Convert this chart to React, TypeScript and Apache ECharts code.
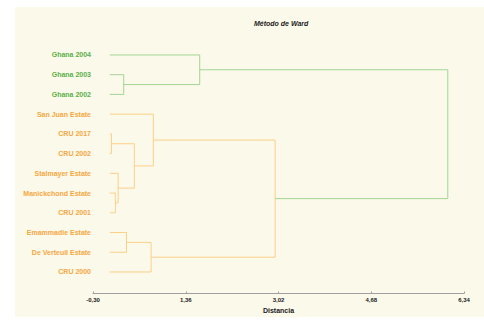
import React, { useEffect, useRef } from "react";
import * as echarts from "echarts";

// Leaves, top to bottom
const leaves = [
  "Ghana 2004",
  "Ghana 2003",
  "Ghana 2002",
  "San Juan Estate",
  "CRU 2017",
  "CRU 2002",
  "Stalmayer Estate",
  "Manickchond Estate",
  "CRU 2001",
  "Emammadie Estate",
  "De Verteuil Estate",
  "CRU 2000",
];
// cluster group of each leaf: g = Ghana (green), o = orange
const leafGroup = ["g", "g", "g", "o", "o", "o", "o", "o", "o", "o", "o", "o"];

// Linkage: [childA, childB, distance]; ids >= leaves.length refer to earlier merges
const merges: [number, number, number][] = [
  [4, 5, 0.03], // 12
  [7, 8, 0.1], // 13
  [6, 13, 0.15], // 14
  [1, 2, 0.25], // 15
  [9, 10, 0.3], // 16
  [12, 14, 0.44], // 17
  [16, 11, 0.74], // 18
  [3, 17, 0.78], // 19
  [0, 15, 1.61], // 20
  [19, 18, 2.96], // 21
  [20, 21, 6.05], // 22
];
// colour group of each merge link
const mergeGroup = ["o", "o", "o", "g", "o", "o", "o", "o", "g", "o", "g"];

const axisMin = -0.3;
const axisMax = 6.34;
const axisStep = 1.66;

const COLORS: Record<string, { text: string; line: string }> = {
  g: { text: "#5cb04a", line: "#a3d594" },
  o: { text: "#f5a742", line: "#fccf88" },
};

export default function App() {
  const ref = useRef<HTMLDivElement>(null);
  useEffect(() => {
    document.body.style.margin = "0";
    const chart = echarts.init(ref.current!, null, { renderer: "svg" });
    const n = leaves.length;
    const pos: number[] = leaves.map((_, i) => i);
    const hgt: number[] = leaves.map(() => 0);
    const series: any[] = [];
    merges.forEach(([a, b, d], k) => {
      const ya = pos[a];
      const yb = pos[b];
      const ha = hgt[a];
      const hb = hgt[b];
      pos[n + k] = (ya + yb) / 2;
      hgt[n + k] = d;
      series.push({
        type: "line",
        showSymbol: false,
        symbol: "none",
        silent: true,
        lineStyle: { color: COLORS[mergeGroup[k]].line, width: 1 },
        data: [
          [ha - axisMin, ya],
          [d - axisMin, ya],
          [d - axisMin, yb],
          [hb - axisMin, yb],
        ],
      });
    });

    const rich: any = {
      g: { color: COLORS.g.text, fontWeight: "bold", fontSize: 7, fontFamily: "Liberation Sans, Arial, sans-serif" },
      o: { color: COLORS.o.text, fontWeight: "bold", fontSize: 7, fontFamily: "Liberation Sans, Arial, sans-serif" },
    };

    chart.setOption({
      animation: false,
      backgroundColor: "#ffffff",
      graphic: [
        {
          type: "rect",
          z: -10,
          silent: true,
          shape: { x: 15, y: 7, width: 469, height: 310 },
          style: { fill: "#fbf9ea" },
        },
      ],
      title: {
        text: "Método de Ward",
        left: 249,
        top: 15,
        textStyle: {
          fontSize: 7,
          fontStyle: "italic",
          fontWeight: "bold",
          color: "#222",
          fontFamily: "Liberation Sans, Arial, sans-serif",
        },
      },
      grid: { left: 93, width: 371, top: 15.5, height: 278 },
      xAxis: {
        type: "value",
        position: "bottom",
        min: 0,
        max: axisMax - axisMin,
        interval: axisStep,
        splitLine: { show: false },
        axisLine: { show: true, onZero: false, lineStyle: { color: "#a0a0a0", width: 1 } },
        axisTick: { show: true, inside: true, length: 2, lineStyle: { color: "#a0a0a0" } },
        axisLabel: {
          fontSize: 6,
          fontWeight: "bold",
          color: "#222",
          margin: 3,
          fontFamily: "Liberation Sans, Arial, sans-serif",
          formatter: (v: number) => (v + axisMin).toFixed(2).replace(".", ","),
        },
        name: "Distancia",
        nameLocation: "middle",
        nameGap: 13,
        nameTextStyle: {
          fontSize: 7,
          fontWeight: "bold",
          color: "#222",
          fontFamily: "Liberation Sans, Arial, sans-serif",
          verticalAlign: "top",
        },
      },
      yAxis: {
        type: "value",
        inverse: true,
        min: -2,
        max: 12.09,
        interval: 1,
        splitLine: { show: false },
        axisLine: { show: false },
        axisTick: { show: false },
        axisLabel: {
          margin: 2,
          showMinLabel: false,
          showMaxLabel: false,
          rich,
          formatter: (v: number) => {
            const i = Math.round(v);
            if (Math.abs(v - i) > 1e-6 || i < 0 || i >= leaves.length) return "";
            return `{${leafGroup[i]}|${leaves[i]}}`;
          },
        },
      },
      series,
    });
    return () => chart.dispose();
  }, []);
  return <div ref={ref} style={{ width: 484, height: 320 }} />;
}
